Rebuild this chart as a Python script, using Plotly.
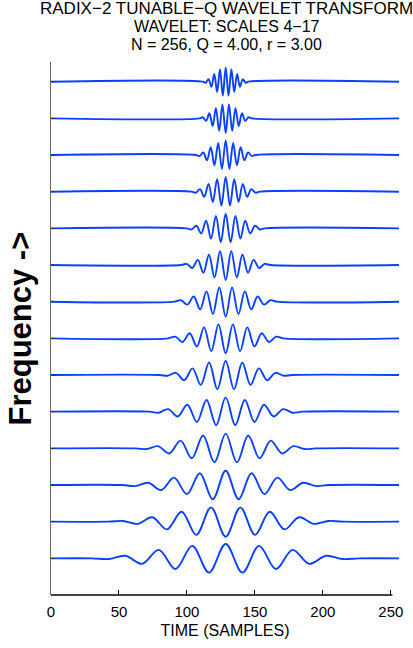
import plotly.graph_objects as go

# Row labels (scales), top row = highest frequency
scales = [17, 16, 15, 14, 13, 12, 11, 10, 9, 8, 7, 6, 5, 4]

# Extremum positions (samples) and amplitudes, one list per row (top -> bottom)
x_r1 = [113.8, 115.9, 118.0, 120.1, 122.2, 124.3, 126.4, 128.5, 130.6, 132.7, 134.8, 136.9, 139.0, 141.1, 143.2]
y_r1 = [-0.03, 0.07, -0.14, 0.21, -0.28, 0.34, -0.38, 0.39, -0.38, 0.34, -0.28, 0.21, -0.14, 0.07, -0.03]
x_r2 = [111.7, 114.1, 116.5, 118.9, 121.3, 123.7, 126.1, 128.5, 130.9, 133.3, 135.7, 138.1, 140.5, 142.9, 145.3]
y_r2 = [0.03, -0.07, 0.14, -0.21, 0.28, -0.34, 0.38, -0.40, 0.38, -0.34, 0.28, -0.21, 0.14, -0.07, 0.03]
x_r3 = [109.25, 112.0, 114.75, 117.5, 120.25, 123.0, 125.75, 128.5, 131.25, 134.0, 136.75, 139.5, 142.25, 145.0, 147.75]
y_r3 = [-0.03, 0.07, -0.14, 0.21, -0.28, 0.33, -0.38, 0.40, -0.38, 0.33, -0.28, 0.21, -0.14, 0.07, -0.03]
x_r4 = [106.45, 109.6, 112.75, 115.9, 119.05, 122.2, 125.35, 128.5, 131.65, 134.8, 137.95, 141.1, 144.25, 147.4, 150.55]
y_r4 = [-0.03, 0.07, -0.14, 0.21, -0.28, 0.34, -0.38, 0.40, -0.38, 0.34, -0.28, 0.21, -0.14, 0.07, -0.03]
x_r5 = [103.3, 106.9, 110.5, 114.1, 117.7, 121.3, 124.9, 128.5, 132.1, 135.7, 139.3, 142.9, 146.5, 150.1, 153.7]
y_r5 = [-0.03, 0.07, -0.14, 0.21, -0.28, 0.34, -0.38, 0.40, -0.38, 0.34, -0.28, 0.21, -0.14, 0.07, -0.03]
x_r6 = [99.8, 103.9, 108.0, 112.1, 116.2, 120.3, 124.4, 128.5, 132.6, 136.7, 140.8, 144.9, 149.0, 153.1, 157.2]
y_r6 = [0.03, -0.08, 0.14, -0.21, 0.28, -0.34, 0.38, -0.41, 0.38, -0.34, 0.28, -0.21, 0.14, -0.08, 0.03]
x_r7 = [95.6, 100.3, 105.0, 109.7, 114.4, 119.1, 123.8, 128.5, 133.2, 137.9, 142.6, 147.3, 152.0, 156.7, 161.4]
y_r7 = [0.04, -0.08, 0.14, -0.21, 0.28, -0.34, 0.39, -0.41, 0.39, -0.34, 0.28, -0.21, 0.14, -0.08, 0.04]
x_r8 = [91.4, 96.7, 102.0, 107.3, 112.6, 117.9, 123.2, 128.5, 133.8, 139.1, 144.4, 149.7, 155.0, 160.3, 165.6]
y_r8 = [0.045, -0.10, 0.14, -0.22, 0.30, -0.35, 0.38, -0.41, 0.38, -0.35, 0.30, -0.22, 0.14, -0.10, 0.045]
x_r9 = [85.8, 91.9, 98.0, 104.1, 110.2, 116.3, 122.4, 128.5, 134.6, 140.7, 146.8, 152.9, 159.0, 165.1, 171.2]
y_r9 = [-0.02, 0.06, -0.14, 0.18, -0.27, 0.34, -0.39, 0.39, -0.39, 0.34, -0.27, 0.18, -0.14, 0.06, -0.02]
x_r10 = [79.15, 86.2, 93.25, 100.3, 107.35, 114.4, 121.45, 128.5, 135.55, 142.6, 149.65, 156.7, 163.75, 170.8, 177.85]
y_r10 = [-0.03, 0.07, -0.13, 0.19, -0.28, 0.32, -0.37, 0.39, -0.37, 0.32, -0.28, 0.19, -0.13, 0.07, -0.03]
x_r11 = [70.4, 78.7, 87.0, 95.3, 103.6, 111.9, 120.2, 128.5, 136.8, 145.1, 153.4, 161.7, 170.0, 178.3, 186.6]
y_r11 = [-0.02, 0.06, -0.14, 0.21, -0.27, 0.35, -0.38, 0.40, -0.38, 0.35, -0.27, 0.21, -0.14, 0.06, -0.02]
x_r12 = [62.0, 71.5, 81.0, 90.5, 100.0, 109.5, 119.0, 128.5, 138.0, 147.5, 157.0, 166.5, 176.0, 185.5, 195.0]
y_r12 = [-0.03, 0.06, -0.14, 0.20, -0.25, 0.32, -0.39, 0.39, -0.39, 0.32, -0.25, 0.20, -0.14, 0.06, -0.03]
x_r13 = [52.9, 63.7, 74.5, 85.3, 96.1, 106.9, 117.7, 128.5, 139.3, 150.1, 160.9, 171.7, 182.5, 193.3, 204.1]
y_r13 = [0.02, -0.06, 0.12, -0.21, 0.27, -0.36, 0.39, -0.41, 0.39, -0.36, 0.27, -0.21, 0.12, -0.06, 0.02]
x_r14 = [42.4, 54.7, 67.0, 79.3, 91.6, 103.9, 116.2, 128.5, 140.8, 153.1, 165.4, 177.7, 190.0, 202.3, 214.6]
y_r14 = [-0.02, 0.07, -0.15, 0.23, -0.29, 0.34, -0.39, 0.39, -0.39, 0.34, -0.29, 0.23, -0.15, 0.07, -0.02]

# where each row's trace settles onto its flat baseline (left / right)
flat_left = [111.7, 109.3, 106.5, 103.3, 99.7, 95.7, 90.9, 86.1, 79.7, 72.1, 62.1, 52.5, 42.1, 30.1]
flat_right = [145.3, 147.7, 150.5, 153.7, 157.3, 161.3, 166.1, 170.9, 177.3, 184.9, 194.9, 204.5, 214.9, 226.9]

rows_x = [x_r1, x_r2, x_r3, x_r4, x_r5, x_r6, x_r7, x_r8, x_r9, x_r10, x_r11, x_r12, x_r13, x_r14]
rows_y = [y_r1, y_r2, y_r3, y_r4, y_r5, y_r6, y_r7, y_r8, y_r9, y_r10, y_r11, y_r12, y_r13, y_r14]

N = 256
x_ticks = [0, 50, 100, 150, 200, 250]

title_lines = ["RADIX\u22122 TUNABLE\u2212Q WAVELET TRANSFORM",
               "WAVELET: SCALES 4\u221217",
               "N = 256, Q = 4.00, r = 3.00"]

FONT = "Liberation Sans, Arial, Helvetica, sans-serif"
BLUE = "#0a40ff"

fig = go.Figure()
n_rows = len(rows_x)
for i, (xs, ys) in enumerate(zip(rows_x, rows_y)):
    offset = n_rows - i  # top row highest
    xx = [0, flat_left[i]] + xs + [flat_right[i], N]
    yy = [offset, offset] + [offset + v for v in ys] + [offset, offset]
    fig.add_trace(go.Scatter(x=xx, y=yy, mode="lines",
                             line=dict(color=BLUE, width=1.9, shape="spline", smoothing=1),
                             hoverinfo="skip", showlegend=False))

fig.update_layout(
    width=413, height=648,
    margin=dict(l=51, r=14, t=62, b=53, autoexpand=False),
    paper_bgcolor="white", plot_bgcolor="white",
    font=dict(family=FONT, color="black", size=15),
    showlegend=False,
)
fig.update_xaxes(range=[0, N], tickvals=x_ticks, ticks="inside", ticklen=5,
                 tickcolor="black", showline=False, showgrid=False, zeroline=False,
                 automargin=False, ticklabelstandoff=6,
                 tickfont=dict(size=15, family=FONT, color="black"),
                 title=dict(text="TIME (SAMPLES)", font=dict(size=16, family=FONT, color="black"),
                            standoff=5))
fig.update_yaxes(range=[0, 14.537], tickvals=list(range(1, n_rows + 1)), ticks="inside",
                 ticklen=4, tickcolor="#333", showticklabels=False, showline=True,
                 automargin=False,
                 linecolor="#666", linewidth=1, showgrid=False, zeroline=False)

# bottom axis line (stops at the last tick, as in the reference)
fig.add_shape(type="line", xref="x domain", yref="paper", x0=0, x1=0.981, y0=0, y1=0,
              line=dict(color="black", width=1.5))

# title lines
for ypos, txt, fs in zip([1.1008, 1.0672, 1.0323], title_lines, [17, 16, 16]):
    fig.add_annotation(text=txt, xref="paper", yref="paper", x=0.505, y=ypos,
                       xanchor="center", yanchor="middle", showarrow=False,
                       font=dict(size=fs, family=FONT, color="black"))

# y label
fig.add_annotation(text="<b>Frequency -></b>", xref="paper", yref="paper", x=-0.089, y=0.5,
                   xanchor="center", yanchor="middle", textangle=-90, showarrow=False,
                   font=dict(size=31, family=FONT, color="black"))

fig.write_html("out.html", post_script="document.body.style.margin='0';",
               config={"displayModeBar": False})
